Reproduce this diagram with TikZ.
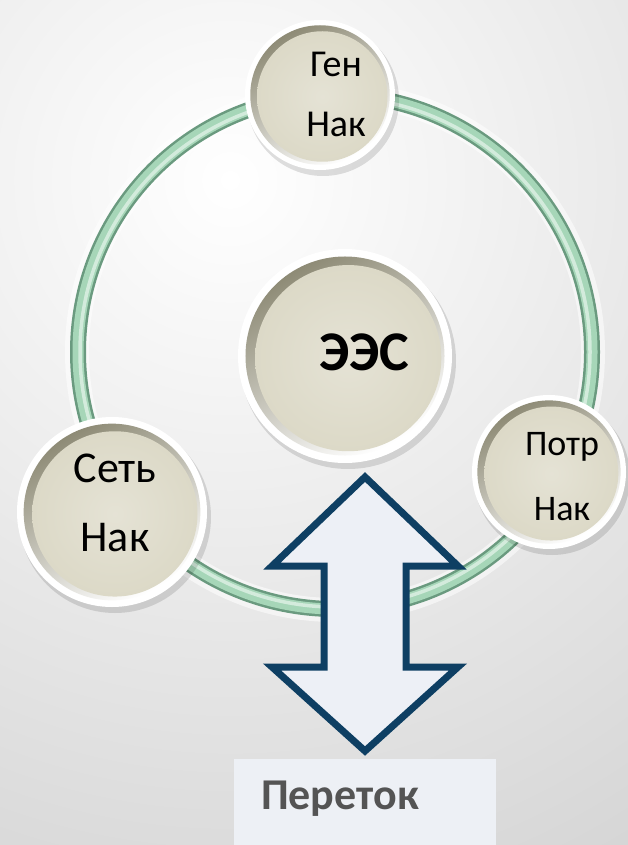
\documentclass[tikz,border=0pt]{standalone}
\usepackage{fontspec}
\setmainfont{Carlito}
\usetikzlibrary{calc}
\definecolor{face}{HTML}{DCD9C7}
\definecolor{bevdark}{HTML}{8E8B76}
\definecolor{ringmid}{HTML}{A6D6B8}
\definecolor{ringdark}{HTML}{6A9A7F}
\definecolor{arrowblue}{HTML}{0E3F63}
\definecolor{arrowfill}{HTML}{EDF0F6}
\definecolor{boxfill}{HTML}{EDF0F5}
\definecolor{flowtext}{HTML}{545454}
\newcommand\knobdeco[2]{%
  \fill[black,opacity=0.12] ($(#1)+(3,5)$) circle ({#2+1});
  \fill[white] (#1) circle (#2);
  \shade[left color=bevdark, right color=white, shading angle=30] (#1) circle ({0.93*#2});
  \shade[inner color=face!75!white, outer color=face] ($(#1)+({0.03*#2},{0.02*#2})$) circle ({0.87*#2});
}
\tikzset{
  knobtext/.style={align=center, text=black, inner sep=0pt},
}
\begin{document}
\begin{tikzpicture}[x=1pt,y=-1pt]
\useasboundingbox (0,0) rectangle (628,845);
\begin{scope}
  \clip (0,0) rectangle (628,845);
  \shade[inner color=white, outer color=black!24] (230,180) circle (1150);
\end{scope}
% ring
\coordinate (rc) at (335,352);
\draw[white, line width=24, opacity=0.55] (rc) circle (258);
\draw[ringdark, line width=16] (rc) circle (257);
\draw[ringmid, line width=11] (rc) circle (257);
\draw[white!50!ringmid, line width=3.5] (rc) circle (255);
% knobs
\coordinate (cgen) at (320,95);
\coordinate (cees) at (345,356);
\coordinate (cset) at (112,512);
\coordinate (cpotr) at (549,472);
\knobdeco{cgen}{75}
\knobdeco{cees}{107}
\knobdeco{cset}{95}
\knobdeco{cpotr}{77}
\node[knobtext, font=\fontsize{38}{60}\selectfont] (gen) at (336,94) {Ген\\Нак};
\node[knobtext, font=\fontsize{56}{60}\selectfont\bfseries] (ees) at (364,352) {ЭЭС};
\node[knobtext, font=\fontsize{44}{69}\selectfont] (set) at (115,503) {Сеть\\Нак};
\node[knobtext, font=\fontsize{36}{65}\selectfont] (potr) at (562,477) {Потр\\Нак};
% double arrow
\draw[line width=7, draw=arrowblue, fill=arrowfill, line join=miter]
  (365,477) -- (458,566) -- (406,566) -- (406,667) -- (458,667) -- (365,751)
  -- (272,667) -- (324,667) -- (324,566) -- (272,566) -- cycle;
% box
\fill[boxfill] (234,759) rectangle (496,845);
\node[font=\fontsize{44}{50}\selectfont\bfseries, text=flowtext] (flow) at (340,799) {Переток};
\end{tikzpicture}
\end{document}
